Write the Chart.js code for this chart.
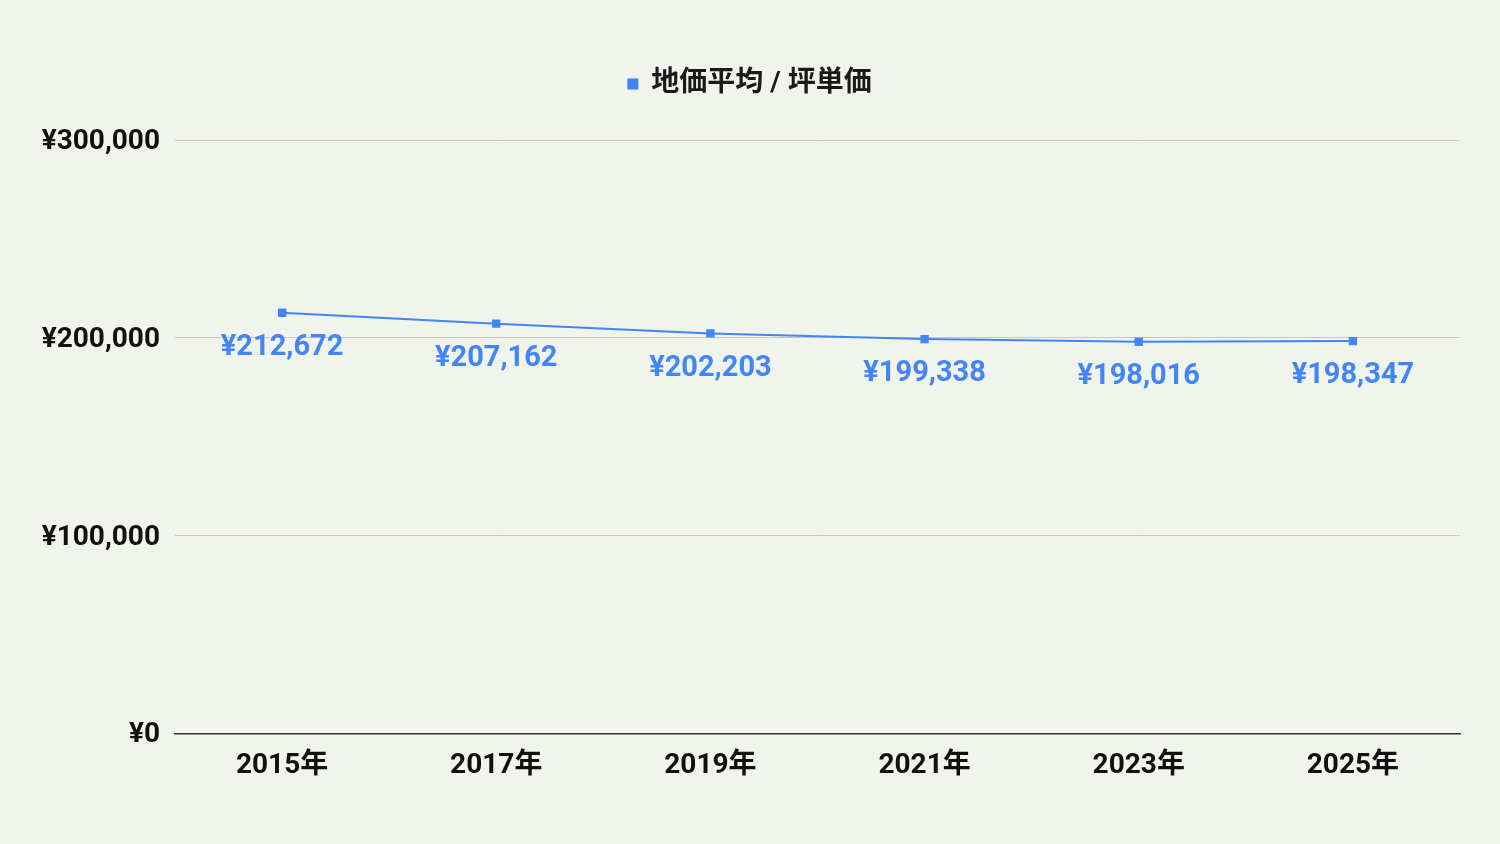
<!DOCTYPE html>
<html>
<head>
<meta charset="utf-8">
<script src="https://cdn.jsdelivr.net/npm/chart.js@4"></script>
<style>
  html, body { margin: 0; padding: 0; background: #f1f3ed; }
  .chart { width: 1500px; height: 844px; }
</style>
</head>
<body>
<div class="chart"><canvas id="c"></canvas></div>
<script>
const categories = ['2015年', '2017年', '2019年', '2021年', '2023年', '2025年'];
const prices = [212672, 207162, 202203, 199338, 198016, 198347];
const seriesName = '地価平均 / 坪単価';
const yTicks = [0, 100000, 200000, 300000];

const FONT = "Roboto, 'Noto Sans CJK JP', sans-serif";
const BLUE = '#4285f4';

const yen = v => '¥' + v.toLocaleString('en-US');

// labels under each point
const pointLabels = {
  id: 'pointLabels',
  afterDatasetsDraw(chart) {
    const ctx = chart.ctx;
    const meta = chart.getDatasetMeta(0);
    ctx.save();
    ctx.font = 'bold 29px ' + FONT;
    ctx.fillStyle = BLUE;
    ctx.textAlign = 'center';
    ctx.textBaseline = 'middle';
    meta.data.forEach((pt, i) => {
      ctx.fillText(yen(prices[i]), pt.x, pt.y + 35);
    });
    ctx.restore();
  }
};

// extra room between legend and plot, and centre legend on the whole canvas
const legendGap = {
  id: 'legendGap',
  beforeInit(chart) {
    const fit = chart.legend.fit;
    chart.legend.fit = function () {
      fit.bind(chart.legend)();
      this.height += 32;
    };
  },
  afterLayout(chart) {
    const lg = chart.legend;
    const shift = (chart.width - (lg.left + lg.right)) / 2;
    lg.left += shift;
    lg.right += shift;
  }
};

new Chart(document.getElementById('c'), {
  type: 'line',
  data: {
    labels: categories,
    datasets: [{
      label: seriesName,
      data: prices,
      borderColor: BLUE,
      backgroundColor: BLUE,
      borderWidth: 2,
      pointStyle: 'rect',
      pointRadius: 4.5,
      pointHoverRadius: 4.5,
      tension: 0
    }]
  },
  plugins: [pointLabels, legendGap],
  options: {
    responsive: true,
    maintainAspectRatio: false,
    animation: false,
    layout: { padding: { top: 46, right: 40, left: 0, bottom: 53 } },
    plugins: {
      tooltip: { enabled: false },
      legend: {
        position: 'top',
        labels: {
          usePointStyle: true,
          pointStyle: 'rect',
          boxWidth: 9,
          boxHeight: 9,
          padding: 24,
          color: '#1a1a1a',
          font: { family: FONT, size: 28, weight: 'bold' }
        }
      }
    },
    scales: {
      x: {
        offset: true,
        grid: { display: false },
        border: { color: '#333', width: 1.5 },
        ticks: {
          color: '#111',
          padding: 8,
          font: { family: FONT, size: 28, weight: 'bold' }
        }
      },
      y: {
        min: 0,
        max: 300000,
        afterFit(scale) { scale.width = 175; },
        afterBuildTicks(scale) { scale.ticks = yTicks.map(v => ({ value: v })); },
        grid: { color: '#c8c8c4', drawTicks: false },
        border: { display: false },
        ticks: {
          color: '#111',
          padding: 15,
          labelOffset: 2,
          callback: v => yen(v),
          font: { family: FONT, size: 28, weight: 'bold' }
        }
      }
    }
  }
});
</script>
</body>
</html>
